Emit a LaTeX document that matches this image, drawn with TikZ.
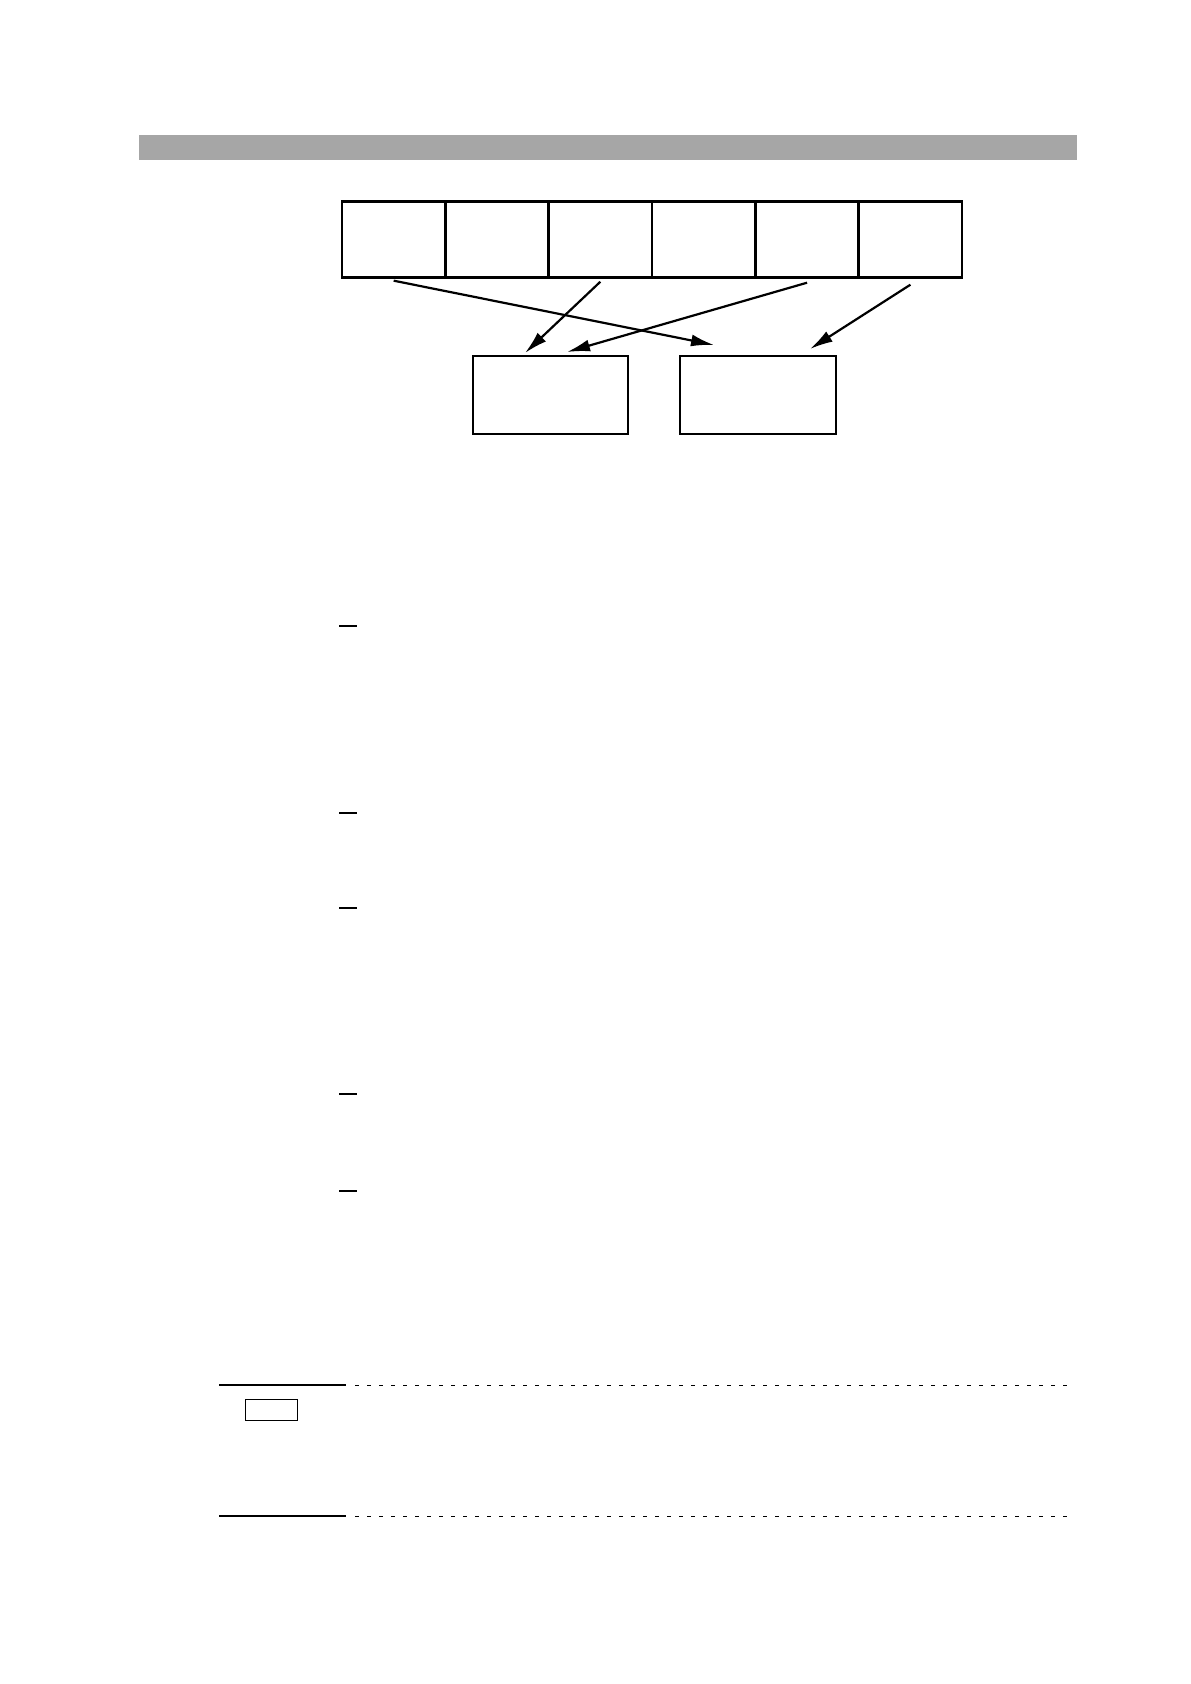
\documentclass[tikz,border=0pt]{standalone}
\usetikzlibrary{positioning,arrows.meta}
\definecolor{bargray}{RGB}{166,166,166}
\tikzset{
	cell/.style={draw,line width=1.4pt,minimum width=51.67pt,minimum height=38pt,inner sep=0pt,outer sep=0pt},
	outbox/.style={draw,line width=1.4pt,minimum height=39pt,inner sep=0pt,outer sep=0pt},
	link/.style={-{Latex[length=11.5pt,width=6pt]},line width=1.1pt},
}
\begin{document}
\begin{tikzpicture}[x=0.5pt,y=-0.5pt]
	\useasboundingbox (0,0) rectangle (1190,1684);
	
	\fill[bargray] (139,135) rectangle (1077,160);
	
	% row of six cells
	\node[cell] (c1) at (393.7,239.7) {};
	\foreach \i [count=\j from 2] in {1,...,5}
	{
		\node[cell,right=0pt of c\i] (c\j) {};
	}
	
	\node[outbox,minimum width=77.5pt] (lo1) at (550.5,395) {};
	\node[outbox,minimum width=78pt,right=26pt of lo1] (lo2) {};
	
	\draw[link] ([yshift=-1.5pt]c1.south) -- ([xshift=-22pt,yshift=5.5pt]lo2.north);
	\draw[link] ([yshift=-2pt]c3.south) -- ([xshift=-12.75pt,yshift=1.5pt]lo1.north);
	\draw[link] ([yshift=-2.5pt]c5.south) -- ([xshift=8.25pt,yshift=2pt]lo1.north);
	\draw[link] ([yshift=-3.5pt]c6.south) -- ([xshift=26pt,yshift=3.5pt]lo2.north);
	
	\foreach \y in {626,813,908,1094,1191}
	{
		\draw[line width=1pt] (339,\y) -- (357,\y);
	}
	
	\foreach \y in {1385,1516}
	{
		\draw[line width=0.9pt] (219,\y) -- (346,\y);
		\draw[line width=0.5pt,dash pattern=on 2pt off 4pt] (355,\y) -- (1071,\y);
	}
	\node[draw,line width=0.5pt,minimum width=26pt,minimum height=10.5pt,inner sep=0pt] (tag) at (271,1409.5) {};
	%\draw (c1.south) -- (lo1.north);
\end{tikzpicture}
\end{document}
